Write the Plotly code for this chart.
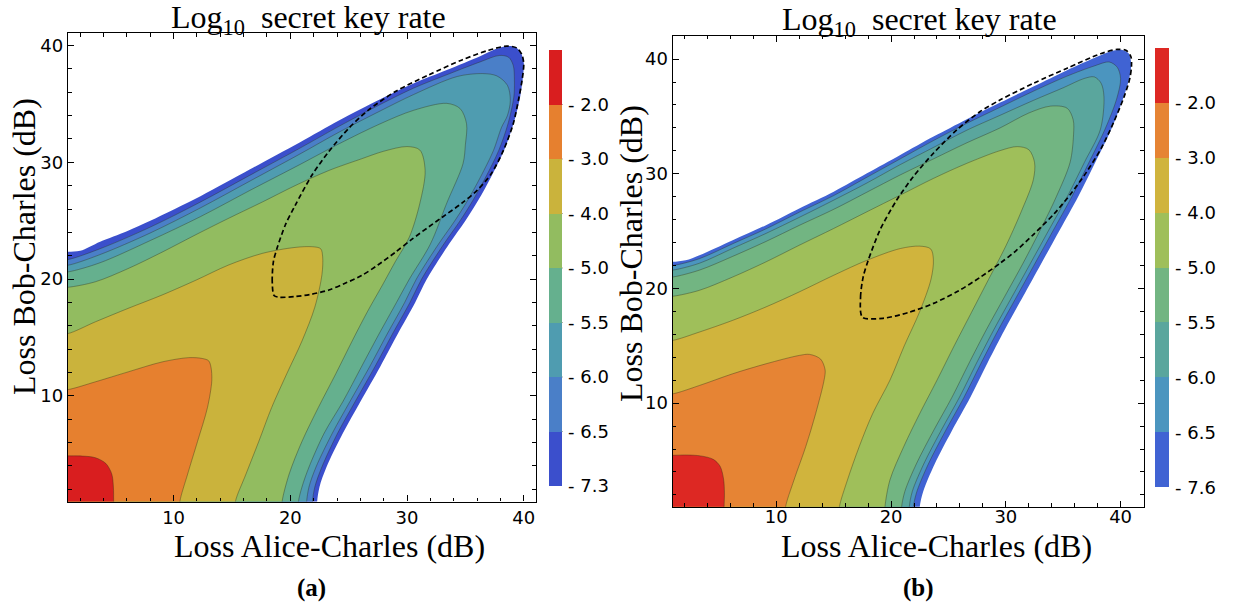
import plotly.graph_objects as go

W, H = 1234, 604

# ---------------- colour bands (outer -> inner) ----------------
A_TICKTEXT = ["- 7.3", "- 6.5", "- 6.0", "- 5.5", "- 5.0", "- 4.0", "- 3.0", "- 2.0"]
B_TICKTEXT = ["- 7.6", "- 6.5", "- 6.0", "- 5.5", "- 5.0", "- 4.0", "- 3.0", "- 2.0"]
A_COLORS = ["#3b4fcc", "#4a7fc8", "#4f9cb0", "#65b08e", "#92bc60", "#cab33c", "#e6802f", "#d91e1f"]
B_COLORS = ["#4063d3", "#4b95bf", "#5aa69d", "#72b582", "#9fbf5a", "#d0b43d", "#e68434", "#dd2823"]

# ---------------- plot (a): contour boundaries (Loss A-C dB, Loss B-C dB) ----------------
a_c73 = [(0.96, 22.33), (2.0, 22.42), (3.7, 23.2), (6.0, 24.1), (8.0, 25.0), (12.3, 27.1), (16.55, 29.4),
         (20.8, 31.7), (24.2, 33.6), (27.7, 35.4), (30.55, 36.75), (33.41, 37.9), (36.26, 39.08), (37.6, 39.7),
         (38.55, 39.95), (39.3, 39.85), (39.75, 39.4), (40.0, 38.5), (39.95, 37.5), (39.69, 35.6), (39.12, 33.3),
         (38.3, 31.0), (37.2, 28.75), (36.1, 26.75), (35.0, 25.0), (33.6, 23.0), (31.7, 20.0), (30.7, 18.0),
         (29.2, 15.3), (27.7, 12.5), (26.0, 9.5), (24.5, 6.8), (23.1, 3.9), (22.5, 2.2), (22.3, 0.96)]
a_c65 = [(0.96, 21.68), (3.7, 22.6), (8.0, 24.45), (12.3, 26.6), (16.55, 28.9), (20.8, 31.2), (24.2, 33.1),
         (27.7, 34.95), (30.55, 36.35), (33.41, 37.5), (36.26, 38.6), (37.9, 39.15), (38.7, 39.0), (39.1, 38.3),
         (39.2, 37.0), (39.15, 35.6), (38.65, 33.3), (37.85, 31.0), (36.75, 28.75), (35.65, 26.75), (34.55, 25.0),
         (33.15, 23.0), (31.25, 20.0), (30.25, 18.0), (28.75, 15.3), (27.25, 12.5), (25.55, 9.5), (24.05, 6.8),
         (22.7, 3.9), (22.1, 2.2), (21.9, 0.96)]
a_c60 = [(0.96, 21.19), (3.7, 22.1), (8.0, 23.95), (12.3, 26.1), (16.55, 28.4), (20.8, 30.7), (24.2, 32.6),
         (27.7, 34.4), (30.55, 35.8), (34.3, 37.35), (36.5, 37.6), (37.7, 37.4), (38.6, 36.6), (38.85, 35.3),
         (38.6, 34.0), (38.1, 33.0), (37.4, 31.0), (36.3, 28.75), (35.2, 26.75), (34.1, 25.0), (32.7, 23.0),
         (30.8, 20.0), (29.8, 18.0), (28.3, 15.3), (26.8, 12.5), (25.1, 9.5), (23.6, 6.8), (22.2, 3.9),
         (21.6, 2.2), (21.4, 0.96)]
a_c55 = [(0.96, 20.62), (3.7, 21.4), (8.0, 23.3), (12.3, 25.35), (16.55, 27.6), (20.8, 29.8), (24.2, 31.6),
         (27.7, 33.3), (30.55, 34.45), (33.4, 35.05), (34.55, 34.6), (35.1, 33.3), (35.0, 31.5), (34.8, 29.9),
         (33.4, 26.5), (32.0, 23.0), (30.2, 20.0), (29.1, 18.0), (27.6, 15.3), (26.1, 12.5), (24.5, 9.5),
         (22.9, 6.8), (21.6, 3.9), (21.0, 2.2), (20.7, 0.96)]
a_c50 = [(0.96, 19.3), (3.3, 19.77), (6.1, 20.9), (9.0, 22.3), (11.9, 23.8), (14.7, 25.2), (17.6, 26.6),
         (20.4, 28.0), (23.3, 29.3), (26.1, 30.3), (28.0, 30.95), (30.0, 31.35), (31.1, 31.05), (31.55, 29.3),
         (31.1, 26.5), (30.2, 23.6), (29.0, 21.5), (27.9, 19.5), (26.6, 17.2), (25.3, 14.7), (23.9, 11.9),
         (22.4, 9.0), (21.0, 6.1), (19.9, 3.3), (19.3, 0.96)]
a_c40 = [(0.96, 15.34), (3.3, 16.34), (6.1, 17.49), (9.0, 18.63), (11.9, 19.9), (14.7, 21.2), (17.6, 22.2),
         (20.4, 22.71), (21.9, 22.77), (22.6, 22.6), (22.77, 21.9), (22.71, 20.4), (22.1, 17.6), (21.0, 14.7),
         (19.7, 11.9), (18.4, 9.0), (17.3, 6.1), (16.2, 3.3), (15.3, 0.96)]
a_c30 = [(0.96, 10.54), (3.3, 11.2), (6.1, 12.05), (9.0, 12.9), (11.3, 13.27), (12.45, 13.2), (13.0, 13.0),
         (13.2, 12.45), (13.27, 11.3), (12.9, 9.0), (12.05, 6.1), (11.2, 3.3), (10.54, 0.96)]
a_c20 = [(0.96, 4.86), (2.2, 4.84), (3.3, 4.7), (4.2, 4.2), (4.7, 3.3), (4.84, 2.2), (4.86, 0.96)]
a_dash = [(18.6, 18.6), (18.45, 19.8), (18.55, 21.5), (18.86, 22.63), (19.57, 24.63), (20.43, 26.34),
          (21.86, 28.91), (23.29, 30.91), (25.0, 32.91), (26.71, 34.49), (29.0, 36.06), (31.86, 37.49),
          (34.71, 38.77), (37.0, 39.6), (38.55, 39.95), (39.4, 39.8), (39.85, 39.2), (40.0, 38.4),
          (39.85, 37.0), (39.6, 35.6), (39.1, 33.3), (38.25, 31.0), (37.2, 29.0), (36.0, 27.6), (34.7, 26.5),
          (33.3, 25.5), (31.9, 24.5), (30.4, 23.4), (29.0, 22.3), (27.5, 21.2), (26.1, 20.3), (24.6, 19.6),
          (23.3, 19.06), (21.8, 18.7), (20.4, 18.5), (19.0, 18.45), (18.6, 18.6)]

# ---------------- plot (b) ----------------
b_c76 = [(0.97, 22.32), (2.1, 22.46), (3.3, 22.9), (6.2, 24.21), (9.1, 25.52), (12.0, 26.98), (15.0, 28.44),
         (17.9, 30.04), (20.8, 31.64), (23.7, 33.24), (26.6, 34.76), (29.5, 36.21), (32.4, 37.61), (35.3, 39.01),
         (37.7, 40.09), (39.1, 40.67), (40.15, 40.8), (40.7, 40.5), (40.92, 39.6), (40.75, 38.3), (40.2, 36.5),
         (39.2, 33.9), (37.8, 31.0), (36.3, 28.0), (34.7, 25.1), (33.1, 22.2), (31.5, 19.3), (29.9, 16.4),
         (28.4, 13.5), (26.9, 10.5), (25.3, 7.6), (23.8, 4.7), (22.8, 2.3), (22.5, 0.97)]
b_c65 = [(0.97, 22.0), (3.3, 22.6), (6.2, 23.9), (9.1, 25.2), (12.0, 26.65), (15.0, 28.1), (17.9, 29.7),
         (20.8, 31.3), (23.7, 32.9), (26.6, 34.4), (29.5, 35.8), (32.4, 37.2), (35.3, 38.5), (37.7, 39.4),
         (39.0, 39.75), (39.7, 39.3), (40.0, 38.3), (39.65, 36.5), (38.65, 33.9), (37.25, 31.0), (35.75, 28.0),
         (34.15, 25.1), (32.55, 22.2), (30.95, 19.3), (29.35, 16.4), (27.85, 13.5), (26.35, 10.5), (24.75, 7.6),
         (23.25, 4.7), (22.25, 2.3), (21.94, 0.97)]
b_c60 = [(0.97, 21.6), (3.3, 22.2), (6.2, 23.5), (9.1, 24.8), (12.0, 26.2), (15.0, 27.7), (17.9, 29.2),
         (20.8, 30.8), (23.7, 32.3), (26.6, 33.8), (29.5, 35.1), (32.4, 36.4), (35.0, 37.5), (36.8, 38.3),
         (37.7, 38.45), (38.3, 37.9), (38.55, 36.74), (38.25, 33.9), (36.85, 31.0), (35.35, 28.0), (33.75, 25.1),
         (32.15, 22.2), (30.55, 19.3), (28.95, 16.4), (27.45, 13.5), (25.95, 10.5), (24.35, 7.6), (22.85, 4.7),
         (21.85, 2.3), (21.59, 0.97)]
b_c55 = [(0.97, 21.0), (3.3, 21.6), (6.2, 22.8), (9.1, 24.1), (12.0, 25.5), (15.0, 26.9), (17.9, 28.4),
         (20.8, 29.9), (23.7, 31.3), (26.6, 32.7), (29.5, 34.0), (32.0, 35.3), (33.9, 35.9), (35.34, 35.72),
         (35.87, 34.7), (35.9, 33.4), (35.6, 31.0), (34.4, 28.0), (33.0, 25.1), (31.5, 22.2), (29.9, 19.3),
         (28.3, 16.4), (26.8, 13.5), (25.3, 10.5), (23.7, 7.6), (22.2, 4.7), (21.2, 2.3), (20.92, 0.97)]
b_c50 = [(0.97, 19.32), (3.3, 19.84), (6.2, 21.0), (9.1, 22.32), (12.0, 23.77), (15.0, 25.23), (17.9, 26.69),
         (20.8, 28.14), (23.7, 29.6), (26.6, 30.91), (29.5, 32.02), (31.0, 32.37), (32.0, 32.1), (32.5, 31.0),
         (32.4, 29.5), (31.3, 26.6), (30.0, 23.7), (28.5, 20.8), (27.0, 17.9), (25.5, 15.0), (24.0, 12.0),
         (22.5, 9.1), (21.1, 6.2), (19.9, 3.3), (19.47, 0.97)]
b_c40 = [(0.97, 15.47), (3.3, 16.2), (6.2, 17.22), (9.1, 18.39), (12.0, 19.7), (15.0, 21.15), (17.9, 22.46),
         (20.8, 23.48), (22.5, 23.69), (23.45, 23.45), (23.69, 22.5), (23.48, 20.8), (22.46, 17.9),
         (21.15, 15.0), (19.9, 12.0), (18.4, 9.1), (17.22, 6.2), (16.2, 3.3), (15.5, 0.97)]
b_c30 = [(0.97, 10.81), (3.3, 11.54), (6.2, 12.56), (9.1, 13.43), (12.0, 14.16), (12.9, 14.25), (13.85, 13.85),
         (14.25, 12.9), (14.16, 12.0), (13.43, 9.1), (12.56, 6.2), (11.54, 3.3), (10.81, 0.97)]
b_c20 = [(0.97, 5.45), (2.2, 5.48), (3.4, 5.4), (4.5, 5.1), (5.1, 4.5), (5.4, 3.4), (5.48, 2.2), (5.45, 0.97)]
b_dash = [(17.5, 17.5), (17.34, 19.26), (17.57, 21.01), (18.01, 22.46), (19.03, 25.09), (20.49, 27.71),
          (21.94, 29.75), (23.69, 31.79), (25.73, 33.83), (27.77, 35.43), (29.52, 36.45), (32.43, 37.9),
          (35.34, 39.21), (38.26, 40.47), (39.71, 40.85), (40.5, 40.75), (40.9, 40.2), (40.95, 39.4),
          (40.8, 38.3), (40.3, 36.7), (39.4, 34.5), (38.3, 32.2), (37.0, 30.1), (35.7, 28.3), (34.2, 26.5),
          (32.4, 24.7), (30.9, 23.3), (29.5, 22.2), (27.8, 21.0), (25.9, 19.8), (23.7, 18.7), (21.5, 17.9),
          (19.3, 17.4), (17.5, 17.5)]

A_CONTOURS = [a_c73, a_c65, a_c60, a_c55, a_c50, a_c40, a_c30, a_c20]
B_CONTOURS = [b_c76, b_c65, b_c60, b_c55, b_c50, b_c40, b_c30, b_c20]

A_RANGE = [0.95, 41.05]
B_RANGE = [0.97, 42.04]
TICKS = [10, 20, 30, 40]

fig = go.Figure()


def add_panel(contours, colors, dash, xa, ya, lo):
    out = lo - 0.7
    for i, (pts, col) in enumerate(zip(contours, colors)):
        xs = [p[0] for p in pts]
        ys = [p[1] for p in pts]
        px = [out] + xs + [xs[-1], out]
        py = [ys[0]] + ys + [out, out]
        fig.add_trace(go.Scatter(
            x=px, y=py, mode="lines", fill="toself", fillcolor=col,
            line=dict(color="rgba(45,45,25,0.55)" if i > 0 else col, width=0.7 if i > 0 else 0,
                      shape="spline", smoothing=0.9),
            xaxis=xa, yaxis=ya, hoverinfo="skip", showlegend=False))
    fig.add_trace(go.Scatter(
        x=[p[0] for p in dash], y=[p[1] for p in dash], mode="lines",
        line=dict(color="black", width=1.7, dash="5px,3px", shape="spline", smoothing=0.8),
        xaxis=xa, yaxis=ya, hoverinfo="skip", showlegend=False))


add_panel(A_CONTOURS, A_COLORS, a_dash, "x", "y", A_RANGE[0])
add_panel(B_CONTOURS, B_COLORS, b_dash, "x2", "y2", B_RANGE[0])


def band_scale(colors):
    n = len(colors)
    cs = []
    for i, c in enumerate(colors):
        cs.append([i / n, c])
        cs.append([(i + 1) / n, c])
    return cs


def add_colorbar(colors, labels, xa, ya, x0, y0, y1, thick):
    n = len(colors)
    cbar = dict(x=x0 / W, xanchor="left", xpad=0, ypad=0,
                y=1 - (y0 + y1) / 2 / H, yanchor="middle",
                len=(y1 - y0) / H, lenmode="fraction", thickness=thick,
                outlinewidth=0, ticks="outside", ticklen=3, tickcolor="rgba(0,0,0,0)",
                tickvals=list(range(n)), ticktext=labels,
                tickfont=dict(family="DejaVu Sans", size=18, color="black"))
    fig.add_trace(go.Scatter(
        x=[None], y=[None], mode="markers", xaxis=xa, yaxis=ya, showlegend=False, hoverinfo="skip",
        marker=dict(color=[0], cmin=0, cmax=n, colorscale=band_scale(colors), showscale=True,
                    colorbar=cbar)))
    # thin separators between the colour bands, as in the legend of the original
    step = (y1 - y0) / n
    for k in range(1, n):
        yy = 1 - (y1 - k * step) / H
        fig.add_shape(type="line", xref="paper", yref="paper", x0=x0 / W, x1=(x0 + thick) / W,
                      y0=yy, y1=yy, line=dict(color="rgba(50,50,30,0.55)", width=1))


add_colorbar(A_COLORS, A_TICKTEXT, "x", "y", 549.3, 50, 486, 13.4)
add_colorbar(B_COLORS, B_TICKTEXT, "x2", "y2", 1155, 48.3, 487.3, 14)

axis_common = dict(showgrid=False, zeroline=False, showline=True, linecolor="black", linewidth=1.3,
                   mirror="allticks", ticks="inside", ticklen=6, tickwidth=1.1, tickcolor="black",
                   automargin=False,
                   tickvals=TICKS, tickfont=dict(family="DejaVu Sans", size=18, color="black"),
                   minor=dict(dtick=2, tick0=0, ticks="inside", ticklen=3.5, tickwidth=1, tickcolor="black",
                              showgrid=False))

fig.update_layout(
    template="none",
    width=W, height=H, margin=dict(l=0, r=0, t=0, b=0, autoexpand=False),
    paper_bgcolor="white", plot_bgcolor="white", showlegend=False,
    xaxis=dict(domain=[68 / W, 536 / W], range=A_RANGE, anchor="y", **axis_common),
    yaxis=dict(domain=[1 - 501.5 / H, 1 - 33.3 / H], range=A_RANGE, anchor="x", **axis_common),
    xaxis2=dict(domain=[672.7 / W, 1144 / W], range=B_RANGE, anchor="y2", ticklabelstandoff=-6,
                **axis_common),
    yaxis2=dict(domain=[1 - 506.7 / H, 1 - 35.7 / H], range=B_RANGE, anchor="x2", **axis_common),
)

SERIF = "Liberation Serif"


def ann(text, px, py, size, angle=0, bold=False):
    fig.add_annotation(text=("<b>" + text + "</b>") if bold else text, x=px / W, y=1 - py / H,
                       xref="paper", yref="paper", showarrow=False, textangle=angle,
                       xanchor="center", yanchor="middle",
                       font=dict(family=SERIF, size=size, color="black"))


TITLE = "Log<sub>10</sub>\u00a0\u00a0secret key rate"
ann(TITLE, 308, 20, 32)
ann(TITLE, 919, 21, 32)
ann("Loss Alice-Charles (dB)", 330, 546, 32)
ann("Loss Alice-Charles (dB)", 936, 546, 32)
ann("Loss Bob-Charles (dB)", 24, 247, 32, angle=-90)
ann("Loss Bob-Charles (dB)", 631, 254, 32, angle=-90)
ann("(a)", 311, 588, 25, bold=True)
ann("(b)", 918, 588, 25, bold=True)

fig.write_html("out.html", config={"displayModeBar": False},
               post_script="document.body.style.margin='0px';document.body.style.overflow='hidden';")
